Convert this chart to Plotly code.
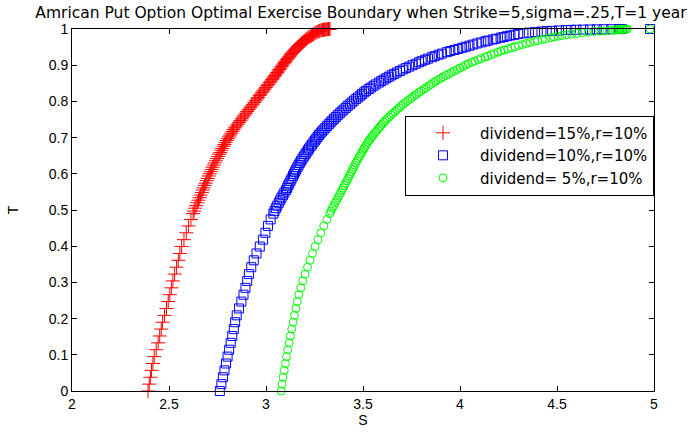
import plotly.graph_objects as go

# Time grid shared by the three boundaries (finer towards expiry)
t_grid = [0.000, 0.019, 0.038, 0.057, 0.076, 0.095, 0.114, 0.133, 0.152, 0.171,
          0.190, 0.209, 0.228, 0.247, 0.266, 0.285, 0.304, 0.323, 0.342, 0.361,
          0.380, 0.399, 0.418, 0.437, 0.456, 0.474, 0.490, 0.497, 0.505, 0.512,
          0.520, 0.527, 0.534, 0.541, 0.548, 0.555, 0.561, 0.568, 0.574, 0.581,
          0.587, 0.594, 0.600, 0.606, 0.612, 0.618, 0.624, 0.630, 0.636, 0.642,
          0.648, 0.654, 0.659, 0.665, 0.670, 0.676, 0.681, 0.687, 0.692, 0.697,
          0.702, 0.707, 0.712, 0.717, 0.722, 0.727, 0.732, 0.737, 0.742, 0.747,
          0.752, 0.757, 0.762, 0.767, 0.772, 0.777, 0.782, 0.787, 0.792, 0.797,
          0.802, 0.807, 0.811, 0.816, 0.820, 0.825, 0.829, 0.834, 0.838, 0.843,
          0.847, 0.852, 0.856, 0.860, 0.864, 0.868, 0.872, 0.876, 0.880, 0.884,
          0.888, 0.892, 0.896, 0.900, 0.904, 0.908, 0.911, 0.915, 0.918, 0.922,
          0.925, 0.929, 0.932, 0.936, 0.939, 0.942, 0.945, 0.948, 0.951, 0.954,
          0.957, 0.960, 0.963, 0.966, 0.968, 0.971, 0.973, 0.976, 0.978, 0.980,
          0.982, 0.984, 0.986, 0.988, 0.990, 0.9915, 0.993, 0.994, 0.995, 0.996,
          0.997, 0.9975, 0.998, 0.9984, 0.9987, 0.999, 0.9993, 0.9995, 0.9997, 0.9999,
          1.000]

# Critical stock price S*(t) for each dividend yield (r = 10%)
s_div15 = [2.392, 2.398, 2.404, 2.410, 2.417, 2.424, 2.434, 2.444, 2.452, 2.460,
           2.467, 2.477, 2.487, 2.496, 2.504, 2.512, 2.520, 2.529, 2.539, 2.548,
           2.556, 2.565, 2.577, 2.589, 2.601, 2.613, 2.624, 2.629, 2.634, 2.640,
           2.646, 2.652, 2.658, 2.663, 2.669, 2.674, 2.679, 2.684, 2.689, 2.695,
           2.700, 2.705, 2.710, 2.715, 2.720, 2.725, 2.731, 2.736, 2.742, 2.747,
           2.753, 2.759, 2.764, 2.770, 2.775, 2.781, 2.786, 2.792, 2.798, 2.804,
           2.810, 2.815, 2.821, 2.827, 2.833, 2.840, 2.847, 2.854, 2.861, 2.868,
           2.875, 2.882, 2.889, 2.896, 2.903, 2.911, 2.918, 2.925, 2.932, 2.940,
           2.947, 2.954, 2.960, 2.967, 2.973, 2.980, 2.986, 2.993, 2.999, 3.006,
           3.012, 3.019, 3.025, 3.031, 3.036, 3.042, 3.047, 3.053, 3.058, 3.064,
           3.069, 3.075, 3.080, 3.086, 3.091, 3.097, 3.101, 3.107, 3.112, 3.118,
           3.122, 3.128, 3.132, 3.138, 3.143, 3.149, 3.154, 3.160, 3.165, 3.171,
           3.177, 3.183, 3.189, 3.195, 3.199, 3.206, 3.210, 3.217, 3.222, 3.228,
           3.234, 3.240, 3.246, 3.252, 3.258, 3.263, 3.268, 3.273, 3.277, 3.283,
           3.288, 3.292, 3.296, 3.301, 3.305, 3.309, 3.314, 3.318, 3.322, 3.326,
           3.330]

s_div10 = [2.762, 2.770, 2.778, 2.786, 2.794, 2.802, 2.810, 2.818, 2.826, 2.834,
           2.841, 2.849, 2.861, 2.873, 2.884, 2.894, 2.903, 2.912, 2.924, 2.937,
           2.951, 2.968, 2.985, 2.997, 3.010, 3.024, 3.038, 3.044, 3.051, 3.058,
           3.066, 3.073, 3.080, 3.088, 3.095, 3.103, 3.109, 3.115, 3.120, 3.127,
           3.132, 3.139, 3.144, 3.150, 3.156, 3.162, 3.168, 3.174, 3.181, 3.188,
           3.195, 3.203, 3.209, 3.216, 3.222, 3.230, 3.237, 3.245, 3.252, 3.259,
           3.266, 3.273, 3.281, 3.289, 3.297, 3.306, 3.315, 3.324, 3.333, 3.342,
           3.351, 3.360, 3.370, 3.380, 3.390, 3.400, 3.411, 3.421, 3.432, 3.442,
           3.453, 3.465, 3.474, 3.486, 3.495, 3.506, 3.516, 3.529, 3.540, 3.554,
           3.566, 3.582, 3.594, 3.607, 3.620, 3.633, 3.647, 3.661, 3.675, 3.690,
           3.705, 3.721, 3.738, 3.755, 3.772, 3.789, 3.802, 3.820, 3.835, 3.855,
           3.870, 3.890, 3.907, 3.932, 3.950, 3.971, 3.991, 4.011, 4.030, 4.049,
           4.068, 4.089, 4.110, 4.131, 4.145, 4.169, 4.185, 4.209, 4.225, 4.242,
           4.260, 4.280, 4.300, 4.327, 4.355, 4.387, 4.420, 4.447, 4.475, 4.510,
           4.545, 4.572, 4.600, 4.635, 4.670, 4.705, 4.740, 4.780, 4.820, 4.835,
           4.980]

s_div5 = [3.078, 3.083, 3.088, 3.094, 3.100, 3.106, 3.112, 3.119, 3.126, 3.133,
          3.140, 3.147, 3.154, 3.161, 3.169, 3.179, 3.190, 3.201, 3.214, 3.227,
          3.240, 3.253, 3.268, 3.283, 3.298, 3.314, 3.329, 3.335, 3.342, 3.349,
          3.357, 3.364, 3.371, 3.378, 3.385, 3.392, 3.398, 3.404, 3.410, 3.417,
          3.423, 3.429, 3.435, 3.441, 3.446, 3.452, 3.457, 3.463, 3.469, 3.476,
          3.482, 3.488, 3.494, 3.500, 3.506, 3.512, 3.518, 3.525, 3.531, 3.538,
          3.545, 3.552, 3.560, 3.567, 3.575, 3.583, 3.591, 3.599, 3.607, 3.615,
          3.624, 3.634, 3.644, 3.654, 3.665, 3.675, 3.686, 3.696, 3.707, 3.719,
          3.731, 3.743, 3.753, 3.765, 3.776, 3.789, 3.800, 3.814, 3.825, 3.839,
          3.850, 3.863, 3.875, 3.888, 3.901, 3.914, 3.928, 3.942, 3.956, 3.970,
          3.985, 4.000, 4.015, 4.029, 4.043, 4.061, 4.075, 4.094, 4.108, 4.128,
          4.142, 4.161, 4.176, 4.196, 4.211, 4.228, 4.246, 4.264, 4.283, 4.302,
          4.322, 4.342, 4.362, 4.385, 4.400, 4.424, 4.440, 4.467, 4.485, 4.505,
          4.525, 4.550, 4.575, 4.602, 4.630, 4.660, 4.690, 4.720, 4.745, 4.770,
          4.790, 4.800, 4.810, 4.818, 4.825, 4.832, 4.840, 4.848, 4.855, 4.862,
          4.980]

series_names = ["dividend=15%,r=10%", "dividend=10%,r=10%", "dividend= 5%,r=10%"]

x_ticks = [2, 2.5, 3, 3.5, 4, 4.5, 5]
x_labels = ["2", "2.5", "3", "3.5", "4", "4.5", "5"]
y_ticks = [0, 0.1, 0.2, 0.3, 0.4, 0.5, 0.6, 0.7, 0.8, 0.9, 1]
y_labels = ["0", "0.1", "0.2", "0.3", "0.4", "0.5", "0.6", "0.7", "0.8", "0.9", "1"]

FONT = "Liberation Sans, Arial, sans-serif"
WIDE_FONT = "DejaVu Sans, Liberation Sans, sans-serif"

fig = go.Figure()
styles = [
    ("cross-thin", "#ff0000", 10),
    ("square-open", "#0000ff", 9),
    ("circle-open", "#00ff00", 8),
]
for s_vals, name, (sym, col, size) in zip([s_div15, s_div10, s_div5], series_names, styles):
    fig.add_trace(go.Scatter(
        x=s_vals, y=t_grid, mode="markers", name=name,
        marker=dict(symbol=sym, size=size, color=col, line=dict(color=col, width=1)),
        cliponaxis=False,
    ))

axis_common = dict(
    showline=True, linecolor="#000000", linewidth=1, mirror="ticks",
    ticks="inside", ticklen=5, tickcolor="#000000", showgrid=False, zeroline=False,
    tickfont=dict(family=FONT, size=14, color="#000000"),
)

fig.update_layout(
    width=691, height=436,
    margin=dict(l=72, r=37, t=29, b=39),
    paper_bgcolor="white", plot_bgcolor="white",
    font=dict(family=FONT, color="#000000"),
    title=dict(
        text="Amrican Put Option Optimal Exercise Boundary when Strike=5,sigma=.25,T=1 year",
        font=dict(family=WIDE_FONT, size=15.5, color="#000000"),
        x=361 / 691, xanchor="center", xref="container",
        y=1 - 13 / 436, yanchor="middle", yref="container",
    ),
    xaxis=dict(range=[2, 5], tickvals=x_ticks, ticktext=x_labels,
               title=dict(text="S", font=dict(family=FONT, size=14), standoff=2),
               **axis_common),
    yaxis=dict(range=[0, 1], tickvals=y_ticks, ticktext=y_labels,
               title=dict(text="T", font=dict(family=FONT, size=14), standoff=26),
               **axis_common),
    legend=dict(
        x=1.0, xanchor="right", y=(397 - 117) / 368, yanchor="top",
        bgcolor="white", bordercolor="#000000", borderwidth=1,
        font=dict(family=WIDE_FONT, size=15, color="#000000"),
        itemwidth=64, tracegroupgap=0,
    ),
    showlegend=True,
)

fig.write_html("out.html")
